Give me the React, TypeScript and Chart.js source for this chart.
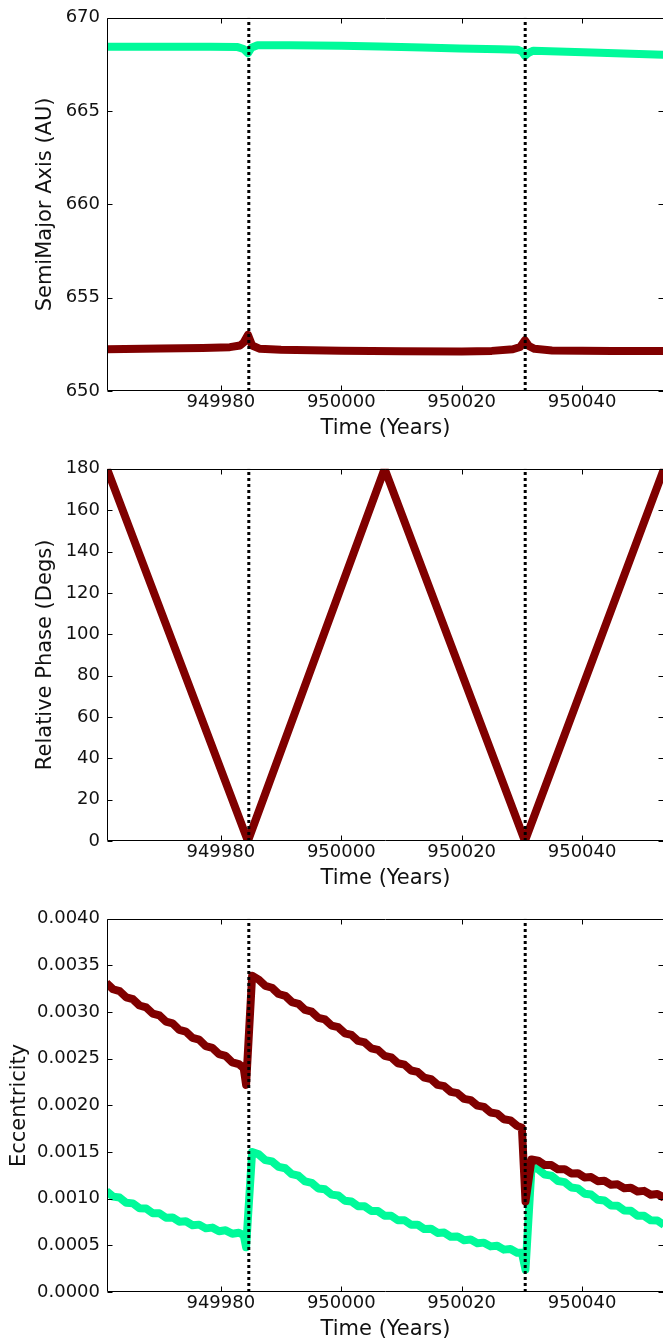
import React, { useEffect, useRef } from "react";
import { Chart, registerables } from "chart.js";

Chart.register(...registerables);

// ---------- data ----------
const xTickValues = [949980, 950000, 950020, 950040];
const eventTimes = [949984.65, 950030.55];

// Semi-major axis (AU)
const smaGreenTime = [
  949961.0, 949978.3, 949982.8, 949983.8, 949984.5, 949985.1, 949986.1, 949991.5,
  950000.0, 950006.4, 950013.5, 950019.7, 950026.3, 950029.3, 950030.0, 950030.5,
  950031.1, 950031.9, 950041.6, 950053.4, 950054.5,
];
const smaGreen = [
  668.45, 668.45, 668.43, 668.33, 668.1, 668.4, 668.53, 668.53,
  668.5, 668.46, 668.41, 668.36, 668.31, 668.29, 668.2, 667.96,
  668.12, 668.24, 668.14, 668.02, 668.01,
];
const smaRedTime = [
  949961.0, 949970.0, 949977.0, 949981.5, 949983.2, 949983.8, 949984.5, 949985.2,
  949986.5, 949990.0, 950000.0, 950010.0, 950020.0, 950025.0, 950028.5, 950029.7,
  950030.5, 950031.2, 950032.1, 950035.0, 950045.0, 950054.5,
];
const smaRed = [
  652.24, 652.28, 652.31, 652.35, 652.44, 652.6, 653.01, 652.44,
  652.26, 652.21, 652.16, 652.13, 652.12, 652.15, 652.24, 652.36,
  652.72, 652.4, 652.26, 652.17, 652.14, 652.14,
];

// Relative phase (degrees)
const phaseTime = [949961.1, 949984.5, 950007.2, 950030.5, 950053.6];
const phaseVal = [180, 0, 180, 0, 180];

// Eccentricity
const eccTime = [
  949961.0, 949962.1, 949963.2, 949964.3, 949965.4, 949966.5, 949967.6, 949968.7, 949969.8, 949970.9,
  949972.0, 949973.1, 949974.2, 949975.3, 949976.4, 949977.5, 949978.6, 949979.7, 949980.8, 949981.9,
  949983.0,
  949983.8, 949984.2, 949985.2,
  949986.3, 949987.4, 949988.5, 949989.6, 949990.7, 949991.8, 949992.9, 949994.0, 949995.1, 949996.2,
  949997.3, 949998.4, 949999.5, 950000.6, 950001.7, 950002.8, 950003.9, 950005.0, 950006.1, 950007.2,
  950008.3, 950009.4, 950010.5, 950011.6, 950012.7, 950013.8, 950014.9, 950016.0, 950017.1, 950018.2,
  950019.3, 950020.4, 950021.5, 950022.6, 950023.7, 950024.8, 950025.9, 950027.0, 950028.1, 950029.2,
  950030.0, 950030.6, 950031.6,
  950032.7, 950033.8, 950034.9, 950036.0, 950037.1, 950038.2, 950039.3, 950040.4, 950041.5, 950042.6,
  950043.7, 950044.8, 950045.9, 950047.0, 950048.1, 950049.2, 950050.3, 950051.4, 950052.5, 950053.6,
  950054.7,
];
const eccRed = [
  0.003312, 0.003245, 0.003225, 0.003158, 0.003138, 0.003071, 0.003051, 0.002984, 0.002964, 0.002897,
  0.002878, 0.00281, 0.002791, 0.002723, 0.002704, 0.002636, 0.002617, 0.002549, 0.00253, 0.002462,
  0.002443,
  0.0024, 0.00222, 0.00339,
  0.003348, 0.00328, 0.003261, 0.003194, 0.003175, 0.003108, 0.003089, 0.003023, 0.003004, 0.002938,
  0.002921, 0.002855, 0.002838, 0.002773, 0.002756, 0.002691, 0.002675, 0.002611, 0.002595, 0.002531,
  0.002515, 0.002452, 0.002437, 0.002374, 0.002359, 0.002297, 0.002282, 0.00222, 0.002206, 0.002145,
  0.002131, 0.00207, 0.002057, 0.001997, 0.001984, 0.001924, 0.001912, 0.001852, 0.00184, 0.001781,
  0.00176, 0.00097, 0.00142,
  0.001408, 0.00136, 0.001361, 0.001315, 0.001316, 0.001271, 0.001273, 0.001228, 0.001232, 0.001188,
  0.001192, 0.001149, 0.001154, 0.001112, 0.001118, 0.001077, 0.001084, 0.001043, 0.001051, 0.001011,
  0.00102,
];
const eccGreen = [
  0.001082, 0.001022, 0.001012, 0.000956, 0.00095, 0.000897, 0.000894, 0.000844, 0.000844, 0.000796,
  0.000799, 0.000754, 0.000758, 0.000716, 0.000722, 0.000682, 0.00069, 0.000651, 0.000661, 0.000624,
  0.000635,
  0.00061, 0.00048, 0.0015,
  0.001475, 0.001413, 0.0014, 0.001341, 0.001326, 0.001263, 0.001247, 0.001185, 0.00117, 0.00111,
  0.001101, 0.001044, 0.001035, 0.000978, 0.00097, 0.00092, 0.000918, 0.000869, 0.000867, 0.000817,
  0.000817, 0.000769, 0.000769, 0.000721, 0.000722, 0.000674, 0.000678, 0.000633, 0.000637, 0.000592,
  0.000596, 0.000555, 0.000562, 0.000522, 0.000529, 0.000489, 0.000496, 0.000454, 0.000461, 0.00042,
  0.00042, 0.00024, 0.00134,
  0.001317, 0.001258, 0.001247, 0.001189, 0.001178, 0.00112, 0.001111, 0.001054, 0.001045, 0.000988,
  0.00098, 0.000928, 0.000925, 0.000873, 0.00087, 0.000818, 0.000816, 0.000768, 0.000767, 0.000718,
  0.000717,
];

// ---------- styling ----------
const X_MIN = 949961.1;
const X_MAX = 950053.6;
const GREEN = "#00FA9A";
const RED = "#800000";
const TEXT = "#111111";
const FONT_FAMILY = "'DejaVu Sans', sans-serif";
const CANVAS_W = 680;

const pts = (xs: number[], ys: number[]) => xs.map((x, i) => ({ x, y: ys[i] }));

const framePlugin = {
  id: "frame",
  afterDatasetsDraw(chart: any) {
    const { ctx, chartArea: a, scales } = chart;
    const L = Math.round(a.left) + 0.5;
    const R = Math.round(a.right) - 0.5;
    const T = Math.round(a.top) + 0.5;
    const B = Math.round(a.bottom) - 0.5;
    const tl = 5;
    ctx.save();
    ctx.strokeStyle = "#000";
    ctx.lineWidth = 1;
    ctx.beginPath();
    ctx.rect(L, T, R - L, B - T);
    for (const t of scales.x.ticks) {
      const p = Math.round(scales.x.getPixelForValue(t.value)) + 0.5;
      ctx.moveTo(p, B);
      ctx.lineTo(p, B - tl);
      ctx.moveTo(p, T);
      ctx.lineTo(p, T + tl);
    }
    for (const t of scales.y.ticks) {
      const p = Math.round(scales.y.getPixelForValue(t.value)) + 0.5;
      ctx.moveTo(L, p);
      ctx.lineTo(L + tl, p);
      ctx.moveTo(R, p);
      ctx.lineTo(R - tl, p);
    }
    ctx.stroke();
    ctx.restore();
  },
};

type PanelCfg = {
  yMin: number;
  yMax: number;
  yStep: number;
  yDecimals: number;
  yTitle: string;
  yTitlePad: number;
  padTop: number;
  xAxisHeight: number;
  xTitlePad: number;
  series: { data: { x: number; y: number }[]; color: string }[];
};

function buildConfig(cfg: PanelCfg): any {
  const tickFont = { family: FONT_FAMILY, size: 18 };
  const titleFont = { family: FONT_FAMILY, size: 21 };
  const eventSets = eventTimes.map((t) => ({
    data: [
      { x: t, y: cfg.yMin },
      { x: t, y: cfg.yMax },
    ],
    borderColor: "#000",
    borderWidth: 3,
    borderDash: [3, 3],
    borderCapStyle: "butt",
    pointRadius: 0,
    clip: 0,
  }));
  const lineSets = cfg.series.map((s) => ({
    data: s.data,
    borderColor: s.color,
    borderWidth: 8,
    borderJoinStyle: "round",
    borderCapStyle: "butt",
    pointRadius: 0,
    tension: 0,
    clip: 0,
  }));
  return {
    type: "line",
    data: { datasets: [...eventSets, ...lineSets] },
    options: {
      animation: false,
      responsive: false,
      events: [],
      layout: {
        autoPadding: false,
        padding: { top: cfg.padTop, right: CANVAS_W - 664, left: 0, bottom: 0 },
      },
      plugins: { legend: { display: false }, tooltip: { enabled: false } },
      scales: {
        x: {
          type: "linear",
          min: X_MIN,
          max: X_MAX,
          grid: { display: false, drawTicks: false },
          border: { display: false },
          afterBuildTicks: (s: any) => {
            s.ticks = xTickValues.map((v) => ({ value: v }));
          },
          afterFit: (s: any) => {
            s.height = cfg.xAxisHeight;
          },
          ticks: {
            font: tickFont,
            color: TEXT,
            padding: 1,
            maxRotation: 0,
            autoSkip: false,
            callback: (v: any) => String(v),
          },
          title: {
            display: true,
            text: "Time (Years)",
            font: titleFont,
            color: TEXT,
            padding: { top: 0, bottom: cfg.xTitlePad },
          },
        },
        y: {
          type: "linear",
          min: cfg.yMin,
          max: cfg.yMax,
          grid: { display: false, drawTicks: false },
          border: { display: false },
          afterFit: (s: any) => {
            s.width = 107;
          },
          ticks: {
            stepSize: cfg.yStep,
            font: tickFont,
            color: TEXT,
            padding: 7,
            autoSkip: false,
            callback: (v: any) => Number(v).toFixed(cfg.yDecimals),
          },
          title: {
            display: true,
            text: cfg.yTitle,
            font: titleFont,
            color: TEXT,
            padding: { top: cfg.yTitlePad, bottom: 0 },
          },
        },
      },
    },
    plugins: [framePlugin],
  };
}

function Panel({ top, height, cfg }: { top: number; height: number; cfg: PanelCfg }) {
  const ref = useRef<HTMLCanvasElement>(null);
  useEffect(() => {
    const chart = new Chart(ref.current as HTMLCanvasElement, buildConfig(cfg));
    return () => chart.destroy();
  }, []);
  return (
    <canvas
      ref={ref}
      width={CANVAS_W}
      height={height}
      style={{ position: "absolute", left: 0, top, width: CANVAS_W, height, display: "block" }}
    />
  );
}

const smaCfg: PanelCfg = {
  yMin: 650,
  yMax: 670,
  yStep: 5,
  yDecimals: 0,
  yTitle: "SemiMajor Axis (AU)",
  yTitlePad: 33,
  padTop: 14,
  xAxisHeight: 60,
  xTitlePad: 10,
  series: [
    { data: pts(smaRedTime, smaRed), color: RED },
    { data: pts(smaGreenTime, smaGreen), color: GREEN },
  ],
};

const phaseCfg: PanelCfg = {
  yMin: 0,
  yMax: 180,
  yStep: 20,
  yDecimals: 0,
  yTitle: "Relative Phase (Degs)",
  yTitlePad: 33,
  padTop: 13,
  xAxisHeight: 60,
  xTitlePad: 10,
  series: [{ data: pts(phaseTime, phaseVal), color: RED }],
};

const eccCfg: PanelCfg = {
  yMin: 0,
  yMax: 0.004,
  yStep: 0.0005,
  yDecimals: 4,
  yTitle: "Eccentricity",
  yTitlePad: 7,
  padTop: 14,
  xAxisHeight: 50,
  xTitlePad: 0,
  series: [
    { data: pts(eccTime, eccRed), color: RED },
    { data: pts(eccTime, eccGreen), color: GREEN },
  ],
};

export default function App() {
  return (
    <div
      style={{
        position: "absolute",
        left: 0,
        top: 0,
        width: 663,
        height: 1342,
        overflow: "hidden",
        background: "#ffffff",
      }}
    >
      <Panel top={0} height={451} cfg={smaCfg} />
      <Panel top={451} height={450} cfg={phaseCfg} />
      <Panel top={901} height={441} cfg={eccCfg} />
    </div>
  );
}
